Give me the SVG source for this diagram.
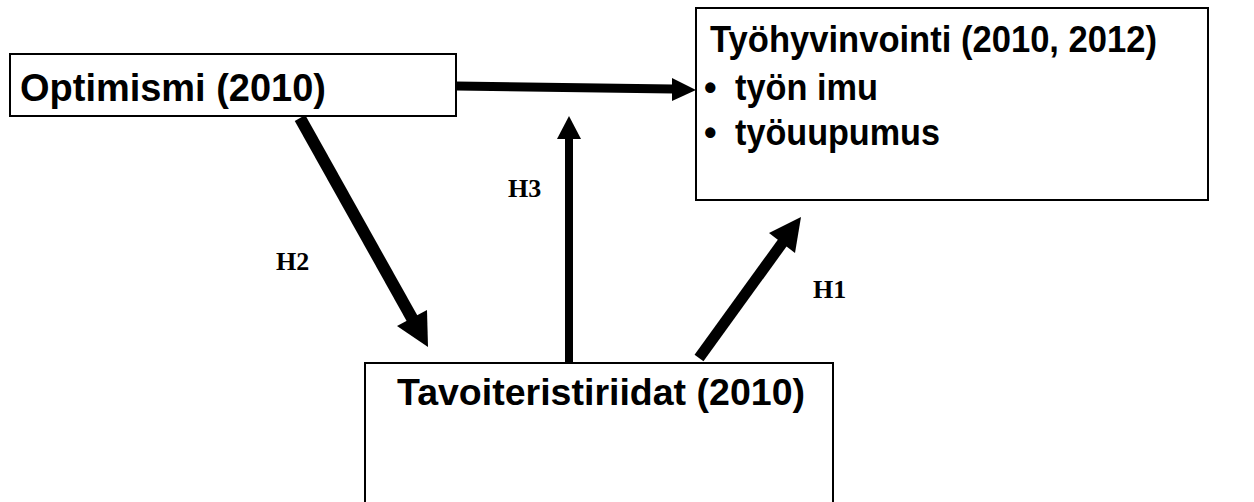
<svg xmlns="http://www.w3.org/2000/svg" width="1254" height="502" viewBox="0 0 1254 502">
<style>
.box{fill:#fff;stroke:#000;stroke-width:2}
.t{font-family:"Liberation Sans",Arial,sans-serif;font-weight:bold;fill:#000}
.lbl{font-family:"Liberation Serif","Times New Roman",serif;font-weight:bold;font-size:26px;fill:#000}
.ln{stroke:#000;fill:none;stroke-linecap:butt}
.hd{fill:#000;stroke:none}
</style>
<rect width="1254" height="502" fill="#fff"/>
<g id="optimismi">
<rect class="box" x="10" y="54" width="446" height="62"/>
<text class="t" x="20" y="101" font-size="38" textLength="306" lengthAdjust="spacingAndGlyphs">Optimismi (2010)</text>
</g>
<g id="tyohyvinvointi">
<rect class="box" x="696" y="8" width="512" height="192"/>
<text class="t" x="710" y="52" font-size="36" textLength="447" lengthAdjust="spacingAndGlyphs">Työhyvinvointi (2010, 2012)</text>
<text class="t" x="704" y="100" font-size="36">•</text>
<text class="t" x="735" y="100" font-size="36" textLength="143" lengthAdjust="spacingAndGlyphs">työn imu</text>
<text class="t" x="704" y="145" font-size="36">•</text>
<text class="t" x="735" y="145" font-size="36" textLength="205" lengthAdjust="spacingAndGlyphs">työuupumus</text>
</g>
<g id="tavoiteristiriidat">
<rect class="box" x="365" y="363" width="468" height="150"/>
<text class="t" x="397" y="405" font-size="37" textLength="408" lengthAdjust="spacingAndGlyphs">Tavoiteristiriidat (2010)</text>
</g>
<g id="connectors">
<line class="ln" x1="456" y1="86" x2="673" y2="89" stroke-width="9"/>
<polygon class="hd" points="672,78 696,90 672,101"/>
<line class="ln" x1="300" y1="118" x2="413" y2="320" stroke-width="12"/>
<polygon class="hd" points="397,326 428,347 427,310"/>
<line class="ln" x1="569" y1="363" x2="569" y2="137" stroke-width="8"/>
<polygon class="hd" points="557,139 569,116 581,139"/>
<line class="ln" x1="699" y1="358" x2="783" y2="242" stroke-width="11"/>
<polygon class="hd" points="795,253 801,217 769,233"/>
</g>
<g id="labels">
<text class="lbl" x="276" y="270">H2</text>
<text class="lbl" x="508" y="197">H3</text>
<text class="lbl" x="813" y="298">H1</text>
</g>
</svg>
